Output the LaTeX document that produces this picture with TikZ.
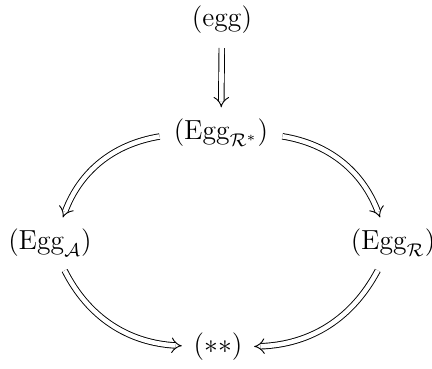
\documentclass[tikz,border=0pt]{standalone}
\usepackage{amsmath,amsfonts,amssymb}
\usepackage{tikz}
\usetikzlibrary{arrows.meta}

\begin{document}
\begin{tikzpicture}[
        x=0.0153cm, y=-0.0153cm,
        obj/.style={inner sep=4pt, font=\fontsize{11.5pt}{14pt}\selectfont},
        impl/.style={double, double distance=2pt, line width=0.4pt, -{Implies}, shorten >=1pt, shorten <=2pt}
    ]

    \useasboundingbox (0, 0) rectangle (432, 368);

    % --- Objects ---
    \node[obj] (egg) at (222, 20) {$(\mathrm{egg})$};
    \node[obj] (eggrs) at (221, 133) {$(\mathrm{Egg}_{\mathcal{R}^*})$};
    \node[obj] (egga) at (50, 243) {$(\mathrm{Egg}_{\mathcal{A}})$};
    \node[obj] (eggr) at (393, 243) {$(\mathrm{Egg}_{\mathcal{R}})$};
    \node[obj] (star) at (218, 347) {$(**)$};

    % --- Implications ---
    \draw[impl] (egg) -- (eggrs);
    \draw[impl] (eggrs) to[bend right=30] (egga);
    \draw[impl] (eggrs) to[bend left=30] (eggr);
    \draw[impl] (egga) to[bend right=30] (star);
    \draw[impl] (eggr) to[bend left=30] (star);

\end{tikzpicture}
\end{document}
